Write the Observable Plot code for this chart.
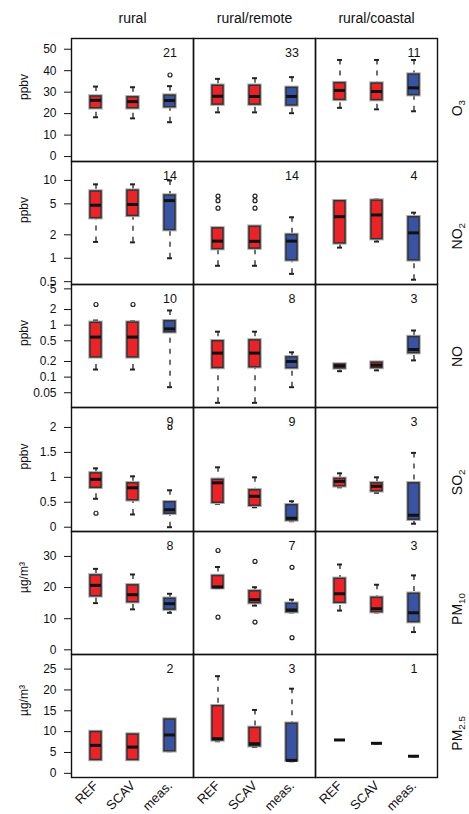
<!DOCTYPE html>
<html><head><meta charset="utf-8">
<script src="https://cdn.jsdelivr.net/npm/d3@7"></script>
<script src="https://cdn.jsdelivr.net/npm/@observablehq/plot@0.6"></script>
<style>
body{margin:0;background:#fff;}
#chart{position:relative;width:469px;height:814px;}
#chart svg{position:absolute;left:0;}
</style></head><body><div id="chart"></div>
<script>
// ---- data ----
const regions = ["rural", "rural/remote", "rural/coastal"];
const models = ["REF", "SCAV", "meas."];
// each stats list: [low whisker, Q1, median, Q3, high whisker], order region x model
const o3Stats = [
  [18.3, 22.5, 26.2, 28.0, 32.6], [17.8, 22.5, 25.6, 27.6, 32.3], [16.0, 23.0, 26.1, 28.4, 32.8],
  [20.6, 24.2, 28.1, 33.0, 36.2], [20.6, 24.2, 28.0, 33.0, 36.5], [20.2, 23.8, 28.0, 32.0, 37.0],
  [22.7, 26.4, 30.8, 34.2, 45.0], [22.0, 26.3, 30.3, 34.0, 45.0], [21.1, 28.6, 32.0, 38.2, 45.0]
];
const o3Outliers = [[0, 2, 38]];
const o3N = [21, 33, 11];

const no2Stats = [
  [1.62, 3.27, 4.8, 7.2, 8.9], [1.6, 3.5, 4.9, 7.4, 8.9], [1.0, 2.3, 5.5, 6.4, 10],
  [0.8, 1.31, 1.66, 2.42, 2.42], [0.8, 1.33, 1.65, 2.54, 2.54], [0.63, 0.94, 1.66, 1.99, 3.36],
  [1.37, 1.55, 3.42, 5.4, 5.6], [1.64, 1.76, 3.6, 5.5, 5.7], [0.53, 0.94, 2.12, 3.36, 3.85]
];
const no2Outliers = [[1, 0, 6.3], [1, 0, 5.5], [1, 0, 4.4], [1, 1, 6.3], [1, 1, 5.5], [1, 1, 4.4]];
const no2N = [14, 14, 4];

const noStats = [
  [0.14, 0.24, 0.59, 1.11, 1.23], [0.14, 0.24, 0.59, 1.12, 1.2], [0.064, 0.73, 0.85, 1.19, 1.92],
  [0.032, 0.15, 0.29, 0.49, 0.75], [0.032, 0.155, 0.29, 0.51, 0.75], [0.064, 0.149, 0.2, 0.24, 0.30],
  [0.13, 0.147, 0.165, 0.175, 0.175], [0.135, 0.15, 0.17, 0.19, 0.19], [0.21, 0.29, 0.34, 0.59, 0.79]
];
const noOutliers = [[0, 0, 2.5], [0, 1, 2.5]];
const noN = [10, 8, 3];

const so2Stats = [
  [0.57, 0.79, 0.96, 1.08, 1.18], [0.255, 0.54, 0.79, 0.88, 1.02], [0.0, 0.27, 0.35, 0.5, 0.74],
  [0.47, 0.49, 0.89, 0.95, 1.2], [0.40, 0.43, 0.62, 0.74, 1.0], [0.12, 0.135, 0.18, 0.44, 0.52],
  [0.8, 0.82, 0.92, 0.97, 1.08], [0.69, 0.72, 0.82, 0.88, 1.0], [0.07, 0.15, 0.24, 0.88, 1.49]
];
const so2Outliers = [[0, 0, 0.28], [0, 2, 2.0]];
const so2N = [9, 9, 3];

const pm10Stats = [
  [15, 17.2, 20.7, 23.9, 26], [13, 15.3, 17.7, 20.7, 24.2], [11.9, 12.9, 14.8, 16.4, 18],
  [19.8, 19.8, 20.2, 23.7, 26.6], [14.2, 15, 16.1, 18.8, 20.1], [12, 12.1, 12.8, 14.8, 16.1],
  [12.6, 15.1, 18, 22.8, 27.4], [12, 12.1, 13.2, 16.7, 20.9], [5.7, 8.9, 11.9, 18, 23.9]
];
const pm10Outliers = [[1, 0, 31.9], [1, 0, 10.5], [1, 1, 28.4], [1, 1, 8.9], [1, 2, 26.5], [1, 2, 3.9]];
const pm10N = [8, 7, 3];

const pm25Stats = [
  [3.2, 3.2, 6.7, 9.9, 9.9], [3.2, 3.2, 6.3, 9.3, 9.3], [5.3, 5.3, 9.2, 12.9, 12.9],
  [7.7, 7.9, 8.3, 16.1, 23.3], [6.3, 6.5, 7.1, 10.9, 15.2], [2.9, 3.0, 3.1, 11.9, 20.3],
  [8, 8, 8, 8, 8], [7.2, 7.2, 7.2, 7.2, 7.2], [4.1, 4.1, 4.1, 4.1, 4.1]
];
const pm25Outliers = [];
const pm25N = [2, 3, 1];

const speciesMain = ["O", "NO", "NO", "SO", "PM", "PM"];
const speciesSub = ["3", "2", "", "2", "10", "2.5"];
const units = ["ppbv", "ppbv", "ppbv", "ppbv", "\u00b5g/m\u00b3", "\u00b5g/m\u00b3"];
const yTypes = ["linear", "log", "log", "linear", "linear", "linear"];
const yDomains = [[-2.3, 55], [0.46, 17.5], [0.026, 6.07], [-0.086, 2.40], [-1.5, 38], [-1.0, 28.5]];
const yTicks = [
  [0, 10, 20, 30, 40, 50], [0.5, 1, 2, 5, 10], [0.05, 0.1, 0.2, 0.5, 1, 2, 5],
  [0, 0.5, 1, 1.5, 2], [0, 10, 20, 30], [0, 5, 10, 15, 20, 25]
];
const allStats = [o3Stats, no2Stats, noStats, so2Stats, pm10Stats, pm25Stats];
const allOutliers = [o3Outliers, no2Outliers, noOutliers, so2Outliers, pm10Outliers, pm25Outliers];
const allN = [o3N, no2N, noN, so2N, pm10N, pm25N];

// ---- layout ----
const RED = "#ec2227", BLUE = "#3953a4";
const W = 469, ML = 70, MR = 31;
const tops = [38, 161, 284, 407, 531, 654], bottoms = [161, 284, 407, 531, 654, 777];
const FONT = "'Liberation Sans', Arial, Helvetica, sans-serif";
const chart = document.getElementById("chart");

allStats.forEach((stats, i) => {
  const first = i === 0, last = i === allStats.length - 1;
  const mt = first ? 38 : 1, mb = last ? 37 : 1;
  const inner = bottoms[i] - tops[i];
  const boxes = [];
  regions.forEach((reg, ri) => models.forEach((m, mi) => {
    const s = stats[ri * 3 + mi];
    boxes.push({region: reg, model: m, lo: s[0], q1: s[1], med: s[2], q3: s[3], hi: s[4],
      color: m === "meas." ? BLUE : RED});
  }));
  const outs = allOutliers[i].map(([ri, mi, v]) => ({region: regions[ri], model: models[mi], value: v}));
  const ns = regions.map((reg, ri) => ({region: reg, n: String(allN[i][ri])}));
  const fullLabel = speciesMain[i] + speciesSub[i];

  const svg = Plot.plot({
    width: W, height: mt + inner + mb,
    marginLeft: ML, marginRight: MR, marginTop: mt, marginBottom: mb,
    style: {fontFamily: FONT, fontSize: "12px", background: "transparent", overflow: "visible", color: "#111"},
    fx: {domain: regions, padding: 0, axis: first ? "top" : null, tickSize: 0, tickPadding: 16, label: null},
    x: {type: "band", domain: models, paddingInner: 0.71, paddingOuter: 0.49,
        axis: last ? "bottom" : null, tickSize: 0, tickPadding: 6, tickRotate: -45, label: null},
    y: {type: yTypes[i], domain: yDomains[i], ticks: yTicks[i], tickSize: 7, tickPadding: 3,
        tickFormat: () => "", label: null},
    color: {type: "identity"},
    marks: [
      Plot.frame({stroke: "#111", strokeWidth: 1.4}),
      Plot.text(yTicks[i], {fx: () => regions[0], y: d => d, frameAnchor: "left", dx: -15, textAnchor: "end",
        text: d => String(d), fontSize: 12, fill: "#111"}),
      Plot.ruleX(boxes, {fx: "region", x: "model", y1: "hi", y2: "q3", stroke: "#222", strokeWidth: 1.3, strokeDasharray: "5,6"}),
      Plot.ruleX(boxes, {fx: "region", x: "model", y1: "lo", y2: "q1", stroke: "#222", strokeWidth: 1.3, strokeDasharray: "5,6"}),
      Plot.tickY(boxes, {fx: "region", x: "model", y: "hi", stroke: "#222", strokeWidth: 2, insetLeft: 3, insetRight: 3}),
      Plot.tickY(boxes, {fx: "region", x: "model", y: "lo", stroke: "#222", strokeWidth: 2, insetLeft: 3, insetRight: 3}),
      Plot.barY(boxes, {fx: "region", x: "model", y1: "q1", y2: "q3", fill: "none", stroke: "#aaa", strokeWidth: 3.5}),
      Plot.barY(boxes, {fx: "region", x: "model", y1: "q1", y2: "q3", fill: "color", stroke: "#333", strokeWidth: 1.5}),
      Plot.tickY(boxes, {fx: "region", x: "model", y: "med", stroke: "#111", strokeWidth: 3}),
      Plot.dot(outs, {fx: "region", x: "model", y: "value", r: 2, stroke: "#222", strokeWidth: 1.2, fill: "white"}),
      Plot.text(ns, {fx: "region", x: () => "meas.", frameAnchor: "top", dy: 10, text: "n", fontSize: 12.5, fill: "#111"}),
      Plot.text([units[i]], {fx: () => regions[0], frameAnchor: "left", dx: -47, rotate: -90, text: d => d, fontSize: 12, fill: "#111"}),
      Plot.text([fullLabel], {fx: () => regions[2], frameAnchor: "right", dx: 20, rotate: -90, text: d => d, fontSize: 14, fill: "#111"})
    ]
  });
  svg.style.top = (tops[i] - mt) + "px";
  chart.appendChild(svg);

  const s = d3.select(svg);
  s.selectAll('[aria-label^="fx-axis"]').attr("font-size", 14);
  s.selectAll('[aria-label^="x-axis"]').attr("font-size", 13);
  if (speciesSub[i]) {
    s.selectAll("text").filter(function () { return this.textContent === fullLabel; }).each(function () {
      const t = d3.select(this);
      t.text(speciesMain[i]);
      t.append("tspan").attr("baseline-shift", "-25%").attr("font-size", "70%").text(speciesSub[i]);
    });
  }
});
</script>
</body></html>
